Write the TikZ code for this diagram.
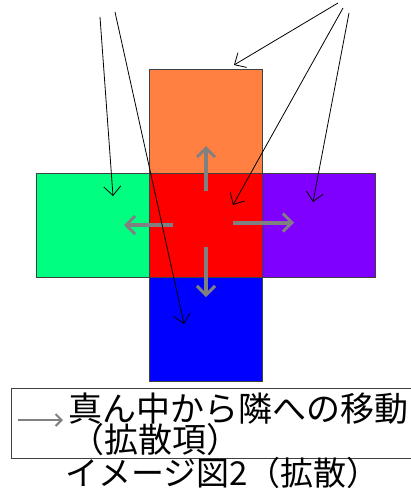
\documentclass[tikz,border=0pt]{standalone}
\usepackage{fontspec}
\newfontfamily\jpfont{Noto Sans CJK JP}
\usetikzlibrary{arrows.meta}
\definecolor{cOrange}{RGB}{255,128,64}
\definecolor{cGreen}{RGB}{0,255,128}
\definecolor{cRed}{RGB}{255,0,0}
\definecolor{cPurple}{RGB}{128,0,255}
\definecolor{cBlue}{RGB}{0,0,255}
\definecolor{cBorder}{RGB}{64,64,64}
\definecolor{cGray}{RGB}{128,128,128}
\tikzset{
  cell/.style={draw=cBorder, line width=1pt, rectangle, minimum width=113pt, minimum height=104pt, inner sep=0pt, outer sep=0pt},
  flow/.style={draw=cGray, line width=4pt, -{Straight Barb[length=9pt,width=18pt,line width=3pt]}},
  pointer/.style={draw=black, line width=0.8pt, -{Straight Barb[length=9pt,width=17pt,line width=0.8pt]}},
  legendarrow/.style={draw=cGray, line width=2.4pt, -{Straight Barb[length=6pt,width=12pt,line width=2pt]}},
  jtext/.style={font=\jpfont, inner sep=0pt, anchor=base west}
}
\begin{document}
\begin{tikzpicture}[x=1pt,y=-1pt]
\useasboundingbox (0,0) rectangle (411,496);
% cells
\node[cell, fill=cOrange] (top) at (205.5,121) {};
\node[cell, fill=cGreen] (left) at (92.5,225) {};
\node[cell, fill=cRed] (mid) at (205.5,225) {};
\node[cell, fill=cPurple] (right) at (318.5,225) {};
\node[cell, fill=cBlue] (bot) at (205.5,329) {};
% gray diffusion arrows
\coordinate (uS) at (206,191); \coordinate (uE) at (206,146);
\coordinate (lS) at (173,225); \coordinate (lE) at (124,225);
\coordinate (rS) at (233,222.5); \coordinate (rE) at (294,222.5);
\coordinate (dS) at (206,247); \coordinate (dE) at (206,297);
\draw[flow] (uS) -- (uE);
\draw[flow] (lS) -- (lE);
\draw[flow] (rS) -- (rE);
\draw[flow] (dS) -- (dE);
% thin pointer arrows
\coordinate (p1s) at (100,17); \coordinate (p1e) at (113,196);
\coordinate (p2s) at (115,12); \coordinate (p2e) at (184,324);
\coordinate (p3s) at (338,3); \coordinate (p3e) at (234,65);
\coordinate (p4s) at (343,8); \coordinate (p4e) at (233,205);
\coordinate (p5s) at (349,13); \coordinate (p5e) at (313,202);
\draw[pointer] (p1s) -- (p1e);
\draw[pointer] (p2s) -- (p2e);
\draw[pointer] (p3s) -- (p3e);
\draw[pointer] (p4s) -- (p4e);
\draw[pointer] (p5s) -- (p5e);
% legend
\begin{scope}
\clip (0,0) rectangle (411,496);
\draw[draw=cBorder, line width=1pt] (11,388) rectangle (430,458);
\end{scope}
\coordinate (legS) at (18,420); \coordinate (legE) at (63,420);
\draw[legendarrow] (legS) -- (legE);
\node[jtext, font=\jpfont\fontsize{34pt}{34pt}\selectfont] (leg1) at (68,421) {真ん中から隣への移動};
\node[jtext, font=\jpfont\fontsize{34pt}{34pt}\selectfont] (leg2) at (70,452) {（拡散項）};
\node[jtext, font=\jpfont\fontsize{33pt}{33pt}\selectfont] (title) at (65,485) {イメージ図2（拡散）};
\end{tikzpicture}
\end{document}
